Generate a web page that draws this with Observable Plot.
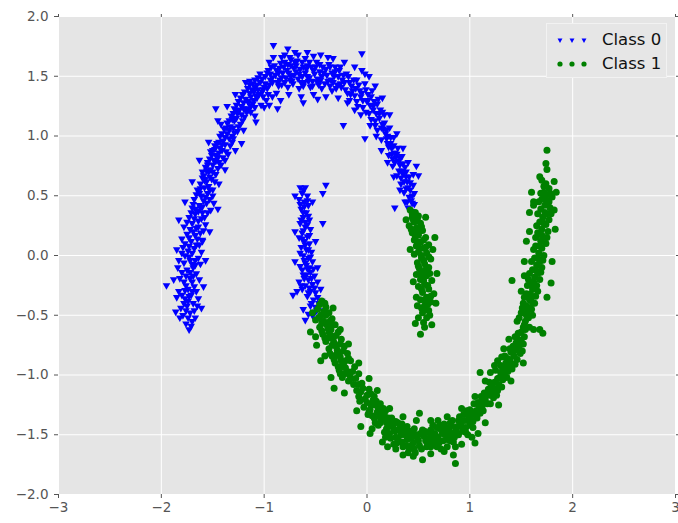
<!DOCTYPE html>
<html><head><meta charset="utf-8">
<script src="https://cdn.jsdelivr.net/npm/d3@7"></script>
<script src="https://cdn.jsdelivr.net/npm/@observablehq/plot@0.6"></script>
<style>
body{margin:0;background:#fff;}
#wrap{position:relative;width:678px;height:523px;font-family:"DejaVu Sans",sans-serif;}
.legend{position:absolute;left:546px;top:23px;width:121px;height:55px;background:#e6e6e6;border:1px solid #f2f2f2;box-sizing:border-box;}
.legend .row{position:absolute;left:0;height:20px;width:120px;}
.legend svg{position:absolute;left:5px;top:0;}
.legend span{position:absolute;left:55px;top:0;font-size:16.5px;line-height:20px;color:#111;white-space:nowrap;}
</style></head><body><div id="wrap"></div>
<script>
const seriesNames = ["Class 0", "Class 1"];
const seriesColors = ["#0000ff", "#008000"];
const xTicks = [-3, -2, -1, 0, 1, 2, 3];
const yTicks = [-2, -1.5, -1, -0.5, 0, 0.5, 1, 1.5, 2];

// Class 0 (blue, downward triangles) — outer arc
const class0Outer = [
[-1.73,-0.62],[-1.76,-0.57],[-1.70,-0.55],[-1.79,-0.50],[-1.72,-0.48],[-1.67,-0.52],[-1.81,-0.44],[-1.75,-0.42],[-1.69,-0.40],[-1.77,-0.36],[-1.71,-0.33],[-1.64,-0.36],[-1.83,-0.30],[-1.74,-0.28],[-1.68,-0.26],[-1.95,-0.25],[-1.78,-0.22],[-1.72,-0.19],[-1.63,-0.20],[-1.80,-0.14],[-1.75,-0.12],[-1.69,-0.10],[-1.66,-0.15],[-1.78,-0.06],[-1.72,-0.04],[-1.64,-0.02],[-1.80,0.02],[-1.74,0.04],[-1.68,0.06],[-1.61,0.03],[-1.77,0.10],[-1.71,0.12],[-1.65,0.14],[-1.75,0.18],[-1.69,0.20],[-1.62,0.19],[-1.78,0.24],[-1.70,0.27],[-1.64,0.29],[-1.57,0.26],[-1.73,0.32],[-1.67,0.35],[-1.60,0.36],[-1.70,0.40],[-1.63,0.42],[-1.56,0.44],[-1.52,0.38],[-1.68,0.47],[-1.61,0.50],[-1.55,0.52],[-1.65,0.55],[-1.58,0.57],[-1.50,0.55],[-1.45,0.39],
[-1.76,-0.46],[-1.70,-0.30],[-1.76,-0.17],[-1.70,-0.07],[-1.66,0.09],[-1.73,0.15],[-1.66,0.23],[-1.61,0.31],[-1.67,0.39],[-1.59,0.46],[-1.63,0.52],[-1.54,0.58],[-1.73,-0.34],[-1.67,-0.04],[-1.62,0.40],
[-1.62,0.60],[-1.56,0.62],[-1.51,0.64],[-1.59,0.67],[-1.54,0.70],[-1.47,0.68],[-1.57,0.74],[-1.50,0.76],[-1.44,0.78],[-1.53,0.81],[-1.47,0.84],[-1.40,0.82],[-1.50,0.88],[-1.43,0.90],[-1.37,0.87],[-1.46,0.94],[-1.40,0.96],[-1.33,0.92],[-1.43,1.00],[-1.36,1.02],[-1.30,0.98],[-1.39,1.06],[-1.33,1.08],[-1.26,1.04],[-1.22,0.94],[-1.47,1.23],[-1.45,1.13],
[-1.58,0.63],[-1.52,0.72],[-1.49,0.80],[-1.44,0.86],[-1.41,0.93],[-1.38,0.99],[-1.34,1.05],[-1.55,0.78],[-1.48,0.92],
[-1.36,1.11],[-1.29,1.13],[-1.23,1.10],[-1.32,1.17],[-1.26,1.19],[-1.19,1.16],[-1.29,1.23],[-1.22,1.25],[-1.15,1.22],[-1.25,1.29],[-1.18,1.31],[-1.11,1.27],[-1.21,1.35],[-1.14,1.36],[-1.07,1.32],[-1.16,1.40],[-1.09,1.41],[-1.02,1.37],[-1.11,1.44],[-1.04,1.45],[-0.97,1.40],[-1.06,1.49],[-0.99,1.50],[-0.92,1.45],[-1.13,1.20],[-1.03,1.26],[-0.96,1.35],[-1.09,1.17],
[-1.31,1.14],[-1.27,1.21],[-1.20,1.28],[-1.13,1.33],[-1.06,1.39],[-0.99,1.44],[-1.17,1.23],[-1.10,1.30],[-1.01,1.33],[-0.94,1.47],
[-0.94,1.52],[-0.88,1.55],[-0.83,1.49],[-0.90,1.59],[-0.84,1.61],[-0.78,1.55],[-0.86,1.42],[-0.80,1.45],[-0.74,1.50],[-0.77,1.60],[-0.71,1.57],[-0.66,1.52],[-0.72,1.44],[-0.68,1.63],[-0.62,1.58],[-0.58,1.50],[-0.64,1.45],[-0.56,1.62],[-0.52,1.55],[-0.48,1.48],[-0.55,1.41],[-0.46,1.60],[-0.42,1.53],[-0.38,1.46],[-0.44,1.40],[-0.36,1.58],[-0.32,1.50],[-0.29,1.43],[-0.34,1.38],[-0.27,1.55],[-0.24,1.47],[-0.21,1.39],
[-0.91,1.76],[-0.77,1.73],[-0.83,1.66],[-0.91,1.66],[-0.60,1.65],[-0.52,1.67],[-0.87,1.23],[-0.70,1.62],[-0.23,1.09],[-0.02,0.98],[-0.05,1.69],[-0.02,1.52],
[-0.92,1.49],[-0.86,1.53],[-0.81,1.58],[-0.75,1.47],[-0.69,1.54],[-0.63,1.50],[-0.59,1.56],[-0.53,1.46],[-0.50,1.58],[-0.44,1.50],[-0.40,1.56],[-0.35,1.47],[-0.31,1.54],[-0.26,1.44],[-0.23,1.51],[-0.66,1.40],[-0.77,1.41],[-0.47,1.43],[-0.57,1.46],[-0.85,1.47],
[-0.18,1.50],[-0.15,1.42],[-0.12,1.34],[-0.17,1.30],[-0.10,1.47],[-0.07,1.38],[-0.04,1.30],[-0.09,1.25],[-0.02,1.44],[0.01,1.35],[0.03,1.26],[-0.01,1.20],[0.05,1.38],[0.07,1.29],[0.09,1.19],[0.04,1.14],[0.11,1.31],[0.13,1.22],[0.15,1.10],[0.10,1.05],[0.17,1.18],[0.18,1.02],[0.20,0.94],[0.14,0.97],[0.22,1.07],[0.24,0.90],[0.21,0.84],[0.26,0.99],[0.28,0.82],[0.25,0.75],[0.30,0.90],[0.32,0.76],[0.29,0.67],[0.34,0.83],[0.35,0.68],[0.33,0.60],[0.37,0.74],[0.39,0.62],[0.36,0.53],[0.41,0.66],[0.42,0.55],[0.39,0.45],[0.44,0.50],[0.40,0.40],[0.46,0.43],[0.43,0.37],[0.48,0.75],[0.50,0.67],[0.27,0.40],[0.45,0.59],
[-0.14,1.38],[-0.06,1.33],[0.00,1.29],[0.06,1.22],[0.12,1.15],[0.16,1.06],[0.19,0.98],[0.23,0.94],[0.27,0.86],[0.31,0.79],[0.34,0.71],[0.38,0.66],[0.40,0.57],[0.43,0.46],[0.08,1.09],[0.25,0.81]
];
const class0OuterMore = [
[-1.82,-0.52],[-1.68,-0.46],[-1.74,-0.38],[-1.80,-0.33],[-1.66,-0.30],[-1.76,-0.25],[-1.70,-0.22],[-1.82,-0.19],[-1.67,-0.08],[-1.73,-0.01],[-1.62,-0.07],[-1.83,-0.04],[-1.77,0.00],[-1.70,0.02],[-1.63,0.09],[-1.79,0.07],[-1.73,0.08],[-1.67,0.17],[-1.60,0.13],[-1.80,0.14],[-1.72,0.22],[-1.64,0.24],[-1.59,0.21],[-1.75,0.28],[-1.68,0.31],[-1.58,0.32],[-1.71,0.36],[-1.64,0.37],[-1.55,0.36],[-1.69,0.43],[-1.60,0.41],[-1.53,0.47],[-1.66,0.51],[-1.57,0.49],[-1.50,0.50],[-1.62,0.56],[-1.53,0.55],[-1.78,-0.40],[-1.71,-0.59],[-1.74,-0.52],[-1.85,-0.35],[-1.69,-0.17],[-1.77,-0.29],[-1.65,-0.42],[-1.72,-0.14],
[-1.60,0.65],[-1.53,0.66],[-1.48,0.62],[-1.56,0.71],[-1.50,0.70],[-1.45,0.73],[-1.55,0.76],[-1.47,0.79],[-1.42,0.76],[-1.51,0.84],[-1.45,0.82],[-1.38,0.80],[-1.48,0.89],[-1.41,0.88],[-1.35,0.85],[-1.44,0.95],[-1.38,0.93],[-1.31,0.95],[-1.41,1.02],[-1.34,0.98],[-1.29,1.03],[-1.37,1.07],[-1.30,1.07],[-1.60,0.70],[-1.52,0.87],
[-1.34,1.13],[-1.27,1.15],[-1.21,1.13],[-1.30,1.19],[-1.24,1.22],[-1.17,1.20],[-1.27,1.26],[-1.20,1.23],[-1.13,1.25],[-1.23,1.32],[-1.16,1.29],[-1.09,1.24],[-1.19,1.37],[-1.12,1.39],[-1.05,1.35],[-1.14,1.43],[-1.07,1.43],[-1.00,1.41],[-1.09,1.47],[-1.02,1.48],[-0.95,1.43],[-1.04,1.52],[-0.97,1.53],[-1.22,1.18],[-1.15,1.28],[-1.08,1.34],[-1.01,1.39],[-0.98,1.30],[-1.10,1.37],[-1.25,1.08],
[-0.96,1.55],[-0.93,1.58],[-0.89,1.51],[-0.87,1.45],[-0.85,1.57],[-0.82,1.53],[-0.80,1.62],[-0.79,1.49],[-0.76,1.53],[-0.74,1.59],[-0.73,1.46],[-0.71,1.51],[-0.69,1.59],[-0.67,1.48],[-0.65,1.56],[-0.63,1.62],[-0.61,1.45],[-0.60,1.53],[-0.58,1.59],[-0.56,1.49],[-0.54,1.58],[-0.53,1.42],[-0.51,1.52],[-0.49,1.62],[-0.48,1.45],[-0.46,1.54],[-0.45,1.47],[-0.43,1.58],[-0.41,1.44],[-0.39,1.51],[-0.37,1.60],[-0.36,1.42],[-0.34,1.53],[-0.33,1.45],[-0.31,1.58],[-0.30,1.40],[-0.28,1.50],[-0.26,1.58],[-0.25,1.41],[-0.22,1.45],[-0.20,1.52],[-0.19,1.36],[-0.62,1.42],[-0.83,1.43],[-0.74,1.64],
[-0.17,1.45],[-0.16,1.35],[-0.13,1.47],[-0.11,1.40],[-0.10,1.29],[-0.08,1.43],[-0.05,1.36],[-0.04,1.24],[-0.01,1.39],[0.01,1.30],[0.02,1.19],[0.04,1.33],[0.06,1.25],[0.08,1.13],[0.10,1.27],[0.12,1.19],[0.14,1.07],[0.15,1.20],[0.17,1.11],[0.19,1.05],[0.20,1.00],[0.21,0.91],[0.23,0.99],[0.24,0.85],[0.26,0.92],[0.27,0.78],[0.29,0.85],[0.31,0.71],[0.32,0.82],[0.33,0.65],[0.35,0.77],[0.36,0.62],[0.38,0.70],[0.38,0.56],[0.41,0.49],[0.42,0.61],[0.44,0.44]
];
// Class 0 — scattered points at the edges of the outer arc
const class0OuterEdge = [
[-1.86,-0.47],[-1.61,-0.44],[-1.88,-0.20],[-1.59,-0.26],[-1.85,0.05],[-1.57,-0.04],[-1.83,0.30],[-1.53,0.20],[-1.77,0.45],[-1.49,0.44],[-1.70,0.62],[-1.44,0.60],[-1.63,0.80],[-1.38,0.72],[-1.54,0.95],[-1.28,0.88],[-1.42,1.10],[-1.20,1.05],[-1.36,1.25],[-1.08,1.12],[-1.28,1.35],[-1.00,1.24],[-1.18,1.45],[-0.92,1.33],[-1.84,-0.10],[-1.60,0.12],[-1.58,0.64],[-1.31,1.00],[-1.14,1.46],[-0.95,1.26],
[-0.95,1.62],[-0.88,1.36],[-0.80,1.68],[-0.76,1.35],[-0.70,1.70],[-0.64,1.33],[-0.58,1.70],[-0.52,1.35],[-0.45,1.68],[-0.40,1.33],[-0.33,1.65],[-0.28,1.32],[-0.22,1.62],[-0.19,1.28],[-0.84,1.30],[-0.67,1.68],[-0.48,1.31],[-0.38,1.66],[-0.62,1.28],[-0.75,1.66],
[-0.12,1.58],[-0.12,1.22],[-0.05,1.55],[-0.06,1.18],[0.02,1.50],[0.03,1.09],[0.08,1.42],[0.09,1.00],[0.15,1.32],[0.14,0.88],[0.22,1.18],[0.20,0.78],[0.29,1.02],[0.26,0.66],[0.35,0.90],[0.32,0.55],[0.40,0.78],[0.37,0.45],[0.45,0.68],[0.46,0.52]
];
// Class 0 — inner strip
const class0Inner = [
[-0.65,0.57],[-0.60,0.57],[-0.63,0.52],[-0.58,0.50],[-0.66,0.47],[-0.61,0.45],[-0.57,0.42],[-0.64,0.39],[-0.59,0.36],[-0.62,0.32],[-0.56,0.30],[-0.65,0.27],[-0.60,0.24],[-0.55,0.22],[-0.63,0.19],[-0.58,0.16],[-0.61,0.12],[-0.56,0.10],[-0.64,0.07],[-0.59,0.05],[-0.54,0.03],[-0.62,0.00],[-0.57,-0.02],[-0.60,-0.06],[-0.53,-0.05],[-0.65,-0.09],[-0.58,-0.11],[-0.55,-0.14],[-0.62,-0.16],[-0.51,-0.17],[-0.57,-0.20],[-0.66,-0.22],[-0.60,-0.25],[-0.53,-0.24],[-0.48,-0.22],[-0.63,-0.28],[-0.55,-0.30],[-0.50,-0.31],[-0.58,-0.34],[-0.45,-0.28],[-0.52,-0.37],[-0.47,-0.40],[-0.55,-0.42],[-0.49,-0.46],[-0.53,-0.50],[-0.46,-0.52],
[-0.72,-0.33],[-0.60,-0.54],[-0.57,-0.49],[-0.40,0.59],[-0.43,0.52],[-0.43,0.27],
[-0.61,0.41],[-0.63,0.14],[-0.59,-0.08],[-0.56,-0.27],[-0.50,-0.43],[-0.60,0.28],[-0.57,0.05],[-0.61,-0.19],
[-0.62,0.55],[-0.58,0.46],[-0.65,0.43],[-0.62,0.36],[-0.57,0.33],[-0.64,0.30],[-0.58,0.26],[-0.62,0.21],[-0.56,0.17],[-0.66,0.15],[-0.60,0.09],[-0.65,0.02],[-0.55,-0.01],[-0.61,-0.04],[-0.56,-0.10],[-0.63,-0.12],[-0.52,-0.11],[-0.59,-0.16],[-0.54,-0.19],[-0.64,-0.25],[-0.51,-0.27],[-0.57,-0.31],[-0.48,-0.35],[-0.54,-0.40],[-0.51,-0.48],
[-0.70,0.50],[-0.53,0.45],[-0.70,0.20],[-0.50,0.12],[-0.70,-0.05],[-0.48,-0.10],[-0.68,-0.30],[-0.44,-0.38],[-0.62,-0.45],[-0.42,-0.46]
];
// Class 1 (green circles) — outer arc
const class1Outer = [
[-0.44,-0.38],[-0.48,-0.45],[-0.40,-0.43],[-0.45,-0.50],[-0.37,-0.48],[-0.50,-0.54],[-0.42,-0.55],[-0.34,-0.53],[-0.46,-0.60],[-0.38,-0.61],[-0.31,-0.58],[-0.43,-0.66],[-0.35,-0.67],[-0.28,-0.64],[-0.40,-0.72],[-0.32,-0.73],[-0.25,-0.70],[-0.37,-0.78],[-0.29,-0.79],[-0.22,-0.76],[-0.34,-0.84],[-0.26,-0.85],[-0.19,-0.82],[-0.31,-0.90],[-0.23,-0.91],[-0.16,-0.88],[-0.27,-0.96],[-0.19,-0.97],[-0.12,-0.93],[-0.24,-1.02],[-0.15,-1.03],[-0.08,-0.99],
[-0.55,-0.64],[-0.49,-0.75],[-0.41,-0.84],[-0.32,-1.11],
[-0.42,-0.47],[-0.39,-0.58],[-0.35,-0.62],[-0.41,-0.69],[-0.30,-0.76],[-0.33,-0.70],[-0.27,-0.82],[-0.21,-0.88],[-0.25,-0.93],[-0.17,-1.00],[-0.44,-0.57],[-0.36,-0.55],
[-0.10,-1.13],[-0.05,-1.07],[-0.02,-1.20],[-0.08,-1.18],[0.02,-1.12],[0.04,-1.25],[-0.03,-1.27],[0.07,-1.18],[0.10,-1.31],[0.05,-1.34],[0.13,-1.24],[0.15,-1.37],[0.11,-1.42],[0.18,-1.30],[0.21,-1.43],[0.17,-1.48],[0.24,-1.36],[0.27,-1.47],[0.23,-1.53],[0.30,-1.40],[0.33,-1.50],[0.29,-1.57],[0.36,-1.44],[0.39,-1.54],[0.35,-1.60],[0.42,-1.47],[0.45,-1.57],[0.41,-1.62],[0.48,-1.50],[0.51,-1.59],[0.47,-1.65],[0.54,-1.46],
[0.20,-1.60],[0.35,-1.67],[0.40,-1.65],[0.54,-1.71],[0.03,-1.49],[-0.06,-1.43],[0.01,-1.33],
[-0.06,-1.14],[0.00,-1.17],[0.03,-1.29],[0.08,-1.25],[0.12,-1.35],[0.16,-1.28],[0.19,-1.40],[0.25,-1.42],[0.28,-1.52],[0.32,-1.44],[0.37,-1.50],[0.43,-1.53],[0.46,-1.45],[0.50,-1.55],[0.26,-1.58],
[0.57,-1.55],[0.60,-1.48],[0.62,-1.60],[0.65,-1.52],[0.68,-1.44],[0.70,-1.57],[0.73,-1.49],[0.75,-1.41],[0.78,-1.54],[0.80,-1.46],[0.83,-1.38],[0.85,-1.52],[0.88,-1.43],[0.90,-1.35],[0.93,-1.47],[0.95,-1.38],[0.97,-1.30],[1.00,-1.42],[1.02,-1.33],[1.04,-1.24],[1.07,-1.36],[1.09,-1.27],[1.11,-1.18],[0.64,-1.42],[0.72,-1.62],[0.86,-1.60],[0.98,-1.50],
[0.86,-1.74],[0.84,-1.67],[1.05,-1.57],[1.08,-1.49],[0.51,-1.32],
[0.55,-1.51],[0.59,-1.57],[0.63,-1.50],[0.67,-1.55],[0.71,-1.45],[0.76,-1.50],[0.81,-1.55],[0.82,-1.42],[0.87,-1.47],[0.91,-1.40],[0.96,-1.44],[0.99,-1.34],[1.03,-1.39],[1.06,-1.30],[0.69,-1.38],
[1.13,-1.30],[1.15,-1.21],[1.18,-1.12],[1.20,-1.24],[1.22,-1.15],[1.24,-1.06],[1.26,-1.17],[1.28,-1.08],[1.30,-0.98],[1.31,-1.10],[1.33,-1.00],[1.35,-0.90],[1.36,-1.02],[1.38,-0.92],[1.40,-0.81],[1.41,-0.95],[1.43,-0.84],[1.45,-0.73],[1.46,-0.87],[1.48,-0.76],[1.50,-0.64],[1.51,-0.80],[1.53,-0.68],[1.27,-0.88],[1.33,-0.78],[1.20,-0.98],[1.10,-0.98],
[1.12,-1.22],[1.16,-1.16],[1.19,-1.06],[1.23,-1.11],[1.27,-1.03],[1.32,-0.95],[1.34,-0.84],[1.39,-0.87],[1.42,-0.76],[1.44,-0.68],[1.47,-0.70],[1.52,-0.60],[1.25,-0.96],
[1.48,-0.52],[1.54,-0.55],[1.58,-0.60],[1.51,-0.44],[1.56,-0.47],[1.61,-0.50],[1.53,-0.35],[1.58,-0.37],[1.63,-0.40],[1.56,-0.25],[1.61,-0.28],[1.66,-0.30],[1.58,-0.15],[1.63,-0.18],[1.68,-0.20],[1.60,-0.05],[1.65,-0.08],[1.70,-0.10],[1.62,0.05],[1.67,0.02],[1.72,0.00],[1.64,0.15],[1.69,0.12],[1.74,0.10],[1.65,0.25],[1.70,0.22],[1.76,0.20],[1.66,0.35],[1.71,0.32],[1.77,0.30],[1.67,0.45],[1.73,0.42],[1.78,0.40],[1.69,0.52],[1.74,0.50],[1.80,0.49],[1.72,0.58],[1.77,0.56],
[1.75,0.88],[1.74,0.77],[1.75,0.72],[1.41,-0.21],[1.71,-0.65],[1.68,-0.62],[1.79,-0.23],[1.83,0.22],[1.84,0.53],[1.60,0.53],[1.58,0.36],[1.55,0.12],[1.53,-0.17],
[1.55,-0.42],[1.59,-0.32],[1.62,-0.22],[1.64,-0.12],[1.66,-0.02],[1.68,0.08],[1.70,0.17],[1.72,0.27],[1.73,0.36],[1.75,0.46],[1.57,-0.52],[1.61,-0.40]
];
const class1OuterMore = [
[-0.46,-0.41],[-0.41,-0.40],[-0.47,-0.52],[-0.40,-0.50],[-0.33,-0.58],[-0.44,-0.63],[-0.37,-0.64],[-0.30,-0.67],[-0.38,-0.69],[-0.34,-0.75],[-0.26,-0.74],[-0.36,-0.82],[-0.30,-0.83],[-0.23,-0.80],[-0.32,-0.87],[-0.25,-0.88],[-0.18,-0.86],[-0.28,-0.93],[-0.21,-0.94],[-0.14,-0.97],[-0.22,-0.99],[-0.18,-1.05],[-0.11,-1.03],[-0.26,-0.99],[-0.13,-1.08],
[-0.08,-1.08],[-0.04,-1.11],[-0.07,-1.22],[0.00,-1.23],[0.04,-1.16],[0.06,-1.21],[0.02,-1.31],[0.09,-1.22],[0.11,-1.28],[0.07,-1.36],[0.14,-1.31],[0.13,-1.40],[0.17,-1.34],[0.19,-1.45],[0.21,-1.36],[0.23,-1.40],[0.22,-1.49],[0.26,-1.45],[0.28,-1.39],[0.30,-1.53],[0.31,-1.46],[0.34,-1.41],[0.34,-1.56],[0.37,-1.47],[0.38,-1.59],[0.40,-1.51],[0.43,-1.59],[0.44,-1.50],[0.46,-1.62],[0.49,-1.53],[0.52,-1.49],[0.53,-1.62],[0.18,-1.52],[0.08,-1.40],[0.39,-1.43],
[0.56,-1.47],[0.58,-1.60],[0.60,-1.53],[0.62,-1.46],[0.64,-1.57],[0.66,-1.49],[0.68,-1.60],[0.69,-1.52],[0.71,-1.42],[0.74,-1.55],[0.75,-1.46],[0.77,-1.44],[0.79,-1.51],[0.81,-1.40],[0.83,-1.49],[0.84,-1.56],[0.86,-1.44],[0.89,-1.50],[0.89,-1.38],[0.92,-1.43],[0.94,-1.33],[0.96,-1.48],[0.98,-1.38],[1.00,-1.29],[1.01,-1.37],[1.03,-1.44],[1.05,-1.33],[1.08,-1.23],[1.10,-1.32],[0.78,-1.60],
[1.12,-1.26],[1.14,-1.15],[1.17,-1.24],[1.19,-1.17],[1.21,-1.08],[1.23,-1.19],[1.25,-1.12],[1.27,-1.13],[1.29,-1.02],[1.30,-0.92],[1.32,-1.04],[1.34,-0.95],[1.36,-0.86],[1.37,-0.97],[1.39,-0.78],[1.40,-0.90],[1.42,-0.81],[1.44,-0.91],[1.45,-0.79],[1.47,-0.65],[1.49,-0.82],[1.50,-0.72],[1.52,-0.74],[1.54,-0.62],[1.31,-0.85],
[1.50,-0.48],[1.53,-0.58],[1.55,-0.50],[1.52,-0.40],[1.57,-0.44],[1.60,-0.45],[1.55,-0.32],[1.60,-0.35],[1.64,-0.34],[1.57,-0.20],[1.60,-0.24],[1.65,-0.25],[1.61,-0.12],[1.66,-0.15],[1.69,-0.14],[1.63,-0.02],[1.68,-0.05],[1.71,-0.04],[1.64,0.08],[1.70,0.06],[1.66,0.19],[1.72,0.15],[1.75,0.15],[1.68,0.28],[1.74,0.26],[1.69,0.39],[1.75,0.35],[1.70,0.47],[1.77,0.45],[1.72,0.53],[1.78,0.52],[1.74,0.60],[1.70,0.63],[1.62,0.42],[1.79,0.35]
];
// Class 1 — scattered points at the edges of the outer arc
const class1OuterEdge = [
[-0.53,-0.48],[-0.33,-0.44],[-0.50,-0.68],[-0.26,-0.62],[-0.45,-0.88],[-0.18,-0.74],[-0.35,-1.02],[-0.08,-0.90],[-0.22,-1.15],[0.02,-1.03],
[-0.10,-1.30],[0.10,-1.13],[0.05,-1.45],[0.22,-1.28],[0.15,-1.56],[0.35,-1.35],[0.28,-1.62],[0.48,-1.38],[0.45,-1.68],[0.62,-1.38],[0.62,-1.66],[0.78,-1.35],[0.75,-1.64],[0.92,-1.28],[0.92,-1.58],[1.05,-1.18],[1.02,-1.52],[1.15,-1.05],[1.15,-1.40],[1.24,-0.92],
[1.28,-1.25],[1.38,-0.70],[1.40,-1.05],[1.46,-0.55],[1.52,-0.90],[1.50,-0.30],[1.62,-0.62],[1.53,-0.05],[1.75,-0.35],[1.58,0.20],[1.80,-0.05],[1.62,0.45],[1.82,0.38],[1.68,0.66],[1.82,0.62]
];
// Class 1 — inner strip
const class1Inner = [
[0.42,0.38],[0.47,0.36],[0.44,0.32],[0.50,0.33],[0.46,0.28],[0.41,0.25],[0.52,0.27],[0.48,0.23],[0.44,0.19],[0.54,0.21],[0.50,0.17],[0.46,0.13],[0.57,0.15],[0.52,0.11],[0.48,0.08],[0.60,0.09],[0.55,0.06],[0.50,0.03],[0.46,0.01],[0.58,0.02],[0.53,-0.02],[0.62,-0.03],[0.49,-0.06],[0.56,-0.07],[0.51,-0.11],[0.60,-0.10],[0.54,-0.14],[0.48,-0.16],[0.58,-0.17],[0.52,-0.20],[0.63,-0.21],[0.56,-0.24],[0.50,-0.26],[0.60,-0.28],[0.54,-0.31],[0.65,-0.32],[0.58,-0.35],[0.52,-0.37],[0.62,-0.39],[0.56,-0.42],[0.60,-0.46],[0.54,-0.48],[0.58,-0.52],[0.55,-0.56],[0.47,-0.57],[0.52,-0.66],[0.49,-0.42],[0.64,0.05],
[0.45,0.30],[0.51,0.20],[0.53,0.00],[0.55,-0.18],[0.57,-0.38],[0.47,0.16],[0.59,-0.14],[0.53,-0.44],
[0.44,0.35],[0.49,0.30],[0.43,0.22],[0.53,0.24],[0.49,0.20],[0.55,0.13],[0.49,0.11],[0.57,0.07],[0.51,0.06],[0.60,-0.01],[0.55,-0.04],[0.50,-0.09],[0.57,-0.12],[0.53,-0.17],[0.61,-0.15],[0.55,-0.21],[0.59,-0.25],[0.53,-0.28],[0.62,-0.34],[0.56,-0.37],[0.59,-0.41],[0.55,-0.45],[0.61,-0.50],[0.56,-0.60],
[0.38,0.30],[0.57,0.32],[0.42,0.05],[0.66,0.15],[0.45,-0.22],[0.68,-0.15],[0.48,-0.35],[0.67,-0.40],[0.50,-0.52],[0.63,-0.58]
];

const class0 = class0Outer.concat(class0OuterMore, class0OuterEdge, class0Inner);
const class1 = class1Outer.concat(class1OuterMore, class1OuterEdge, class1Inner);

const triangleDown = {
  draw(context, size) {
    const w = Math.sqrt(size) * 1.05, h = w * 0.88;
    context.moveTo(-w / 2, -h / 3);
    context.lineTo(w / 2, -h / 3);
    context.lineTo(0, 2 * h / 3);
    context.closePath();
  }
};

const chart = Plot.plot({
  width: 678, height: 523,
  marginLeft: 58, marginRight: 3, marginTop: 16, marginBottom: 29,
  style: {fontFamily: "'DejaVu Sans', sans-serif", fontSize: "13.5px", color: "#555", background: "transparent", overflow: "visible"},
  x: {domain: [-3, 3]},
  y: {domain: [-2, 2]},
  marks: [
    Plot.frame({fill: "#e5e5e5", stroke: null}),
    Plot.gridX(xTicks, {stroke: "#fff", strokeOpacity: 1, strokeWidth: 1}),
    Plot.gridY(yTicks, {stroke: "#fff", strokeOpacity: 1, strokeWidth: 1}),
    Plot.axisX(xTicks, {tickSize: 4, tickPadding: 4, tickFormat: d3.format("d"), label: null, stroke: "#555", fill: "#555"}),
    Plot.axisX(xTicks, {anchor: "top", tickSize: 3, tickFormat: () => "", label: null, stroke: "#555"}),
    Plot.axisY(yTicks, {tickSize: 4, tickPadding: 6, tickFormat: d3.format(".1f"), label: null, stroke: "#555", fill: "#555"}),
    Plot.axisY(yTicks, {anchor: "right", tickSize: 3, tickFormat: () => "", label: null, stroke: "#555"}),
    Plot.dot(class0, {x: d => d[0], y: d => d[1], symbol: triangleDown, r: 4.1, fill: seriesColors[0], stroke: null}),
    Plot.dot(class1, {x: d => d[0], y: d => d[1], r: 3.5, fill: seriesColors[1], stroke: null})
  ]
});

const wrap = document.getElementById("wrap");
wrap.appendChild(chart);

// legend
const legend = document.createElement("div");
legend.className = "legend";
seriesNames.forEach((name, i) => {
  const row = document.createElement("div");
  row.className = "row";
  row.style.top = (6 + i * 24) + "px";
  const svg = d3.create("svg").attr("width", 45).attr("height", 20);
  [8, 20, 32].forEach(cx => {
    if (i === 0) {
      svg.append("path").attr("transform", `translate(${cx},10)`)
        .attr("d", d3.symbol({draw: triangleDown.draw}, 22)()).attr("fill", seriesColors[i]);
    } else {
      svg.append("circle").attr("cx", cx).attr("cy", 10).attr("r", 2.6).attr("fill", seriesColors[i]);
    }
  });
  row.appendChild(svg.node());
  const label = document.createElement("span");
  label.textContent = name;
  row.appendChild(label);
  legend.appendChild(row);
});
wrap.appendChild(legend);
</script>
</body></html>
